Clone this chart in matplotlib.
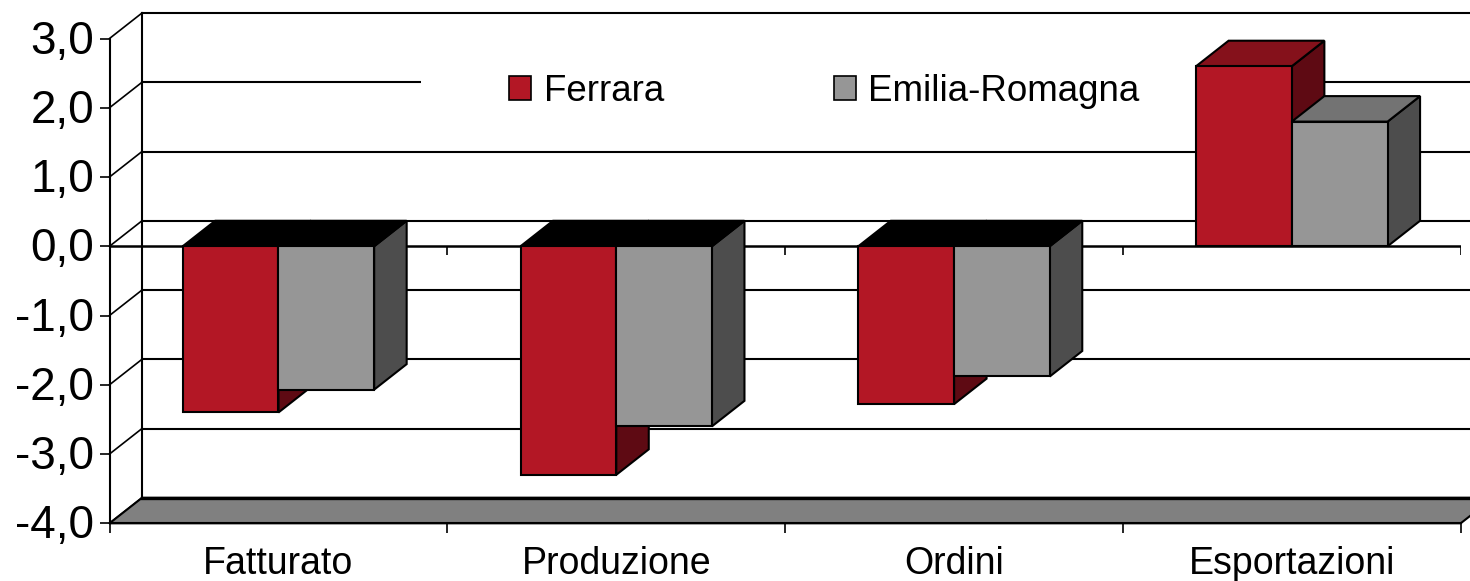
import matplotlib
matplotlib.use('Agg')
import matplotlib.pyplot as plt
from matplotlib.patches import Patch, Rectangle
from matplotlib.transforms import ScaledTranslation

#======== Data ========

categories = ['Fatturato', 'Produzione', 'Ordini', 'Esportazioni']
ferrara = [-2.4, -3.3, -2.28, 2.6]
emilia = [-2.07, -2.6, -1.88, 1.8]
y_ticks = [-4, -3, -2, -1, 0, 1, 2, 3]
y_labels = ['-4,0', '-3,0', '-2,0', '-1,0', '0,0', '1,0', '2,0', '3,0']

#======== Style ========

W, H = 1470, 581
ax_left, ax_right, ax_top, ax_bottom = 109.5, 1460.7, 38.5, 523.3
bar_w = 0.2835
dx = 32.5 / ((ax_right - ax_left) / 4)   # depth of the fake 3D, in category units
dy = 25.5 / ((ax_bottom - ax_top) / 7)   # depth of the fake 3D, in value units
lw = 1.5

plt.rcParams['font.family'] = ['Liberation Sans', 'DejaVu Sans']

fig = plt.figure(figsize=(W / 100, H / 100), dpi=100)
ax = fig.add_axes([ax_left / W, 1 - ax_bottom / H, (ax_right - ax_left) / W, (ax_bottom - ax_top) / H])
ax.set_xlim(0, 4)
ax.set_ylim(-4, 3)
ax.patch.set_visible(False)

# Draw one series with its side and top faces
def add_bars(xs, vals, front, side, top, z):
    ax.bar(xs, vals, bar_w, align='edge', color=front, edgecolor='k', lw=lw, zorder=z + 0.2, clip_on=False)
    for x, v in zip(xs, vals):
        x1 = x + bar_w
        ax.fill([x1, x1 + dx, x1 + dx, x1], [0, dy, v + dy, v], fc=side, ec='k', lw=lw, zorder=z, clip_on=False)
        level = max(v, 0)
        face = top if v > 0 else 'k'
        ax.fill([x, x + dx, x1 + dx, x1], [level, level + dy, level + dy, level], fc=face, ec='k', lw=lw, zorder=z + 0.1, clip_on=False)

#======== Walls and floor ========

ax.fill([0, dx, 4 + dx, 4], [-4, -4 + dy, -4 + dy, -4], fc='#808080', ec='k', lw=lw, zorder=1.2, clip_on=False)
ax.plot([dx, 4 + dx], [-4 + dy, -4 + dy], c='k', lw=2.4, zorder=1.3, clip_on=False)
ax.plot([dx, dx], [-4 + dy, 3 + dy], c='k', lw=lw, zorder=1.1, clip_on=False)
for t in y_ticks:
    ax.plot([0, dx], [t, t + dy], c='k', lw=1.2, zorder=1.1, clip_on=False)
    if t > -4:
        ax.plot([dx, 4 + dx], [t + dy, t + dy], c='k', lw=lw, zorder=1, clip_on=False)

# Zero line with its own ticks
ax.axhline(0, c='k', lw=1.8, zorder=1.4)
ax.vlines([1, 2, 3, 4], -9 / 69.3, 0, color='k', lw=1.2, zorder=1.4)

#======== Bars ========

xs = range(len(categories))
add_bars([x + 0.2167 for x in xs], ferrara, '#B31725', '#5E0A13', '#85111B', 3)
add_bars([x + 0.5 for x in xs], emilia, '#969696', '#4D4D4D', '#737373', 4)

#======== Axes ========

for s in ['top', 'right']:
    ax.spines[s].set_visible(False)
for s in ['left', 'bottom']:
    ax.spines[s].set_linewidth(lw)
    ax.spines[s].set_zorder(2)
ax.set_yticks(y_ticks, y_labels, fontsize=33)
ax.set_xticks([0, 1, 2, 3, 4], [])
ax.set_xticks([x + 0.5 for x in xs], categories, minor=True, fontsize=27)
ax.tick_params(axis='y', length=7, width=1.2, pad=4)
ax.tick_params(axis='x', which='major', length=7, width=1.2)
ax.tick_params(axis='x', which='minor', length=0, pad=16.5)

# Labels sit a little above their ticks
shift = ScaledTranslation(0, 2 / 100, fig.dpi_scale_trans)
for label in ax.get_yticklabels():
    label.set_transform(label.get_transform() + shift)

#======== Legend ========

ax.add_patch(Rectangle((421 / W, 1 - 100 / H), (1195 - 421) / W, 30 / H, transform=fig.transFigure, fc='w', ec='none', zorder=1.5))
handles = [Patch(fc='#B31725', ec='k', lw=1.2, label='Ferrara'), Patch(fc='#969696', ec='k', lw=1.2, label='Emilia-Romagna')]
leg = ax.legend(handles=handles, ncol=2, frameon=False, fontsize=26.5, loc='center left',
                bbox_to_anchor=(509 / W, 1 - 91.5 / H), bbox_transform=fig.transFigure,
                borderaxespad=0, borderpad=0, handlelength=0.6, handleheight=0.6,
                handletextpad=0.35, columnspacing=4.6)
leg.set_zorder(1.6)

fig.savefig('out.png', dpi=100)
